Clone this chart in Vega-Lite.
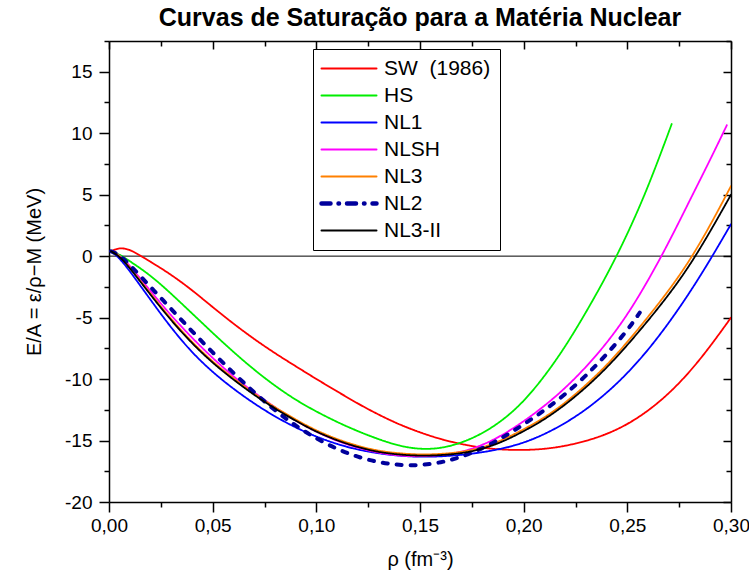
{
  "$schema": "https://vega.github.io/schema/vega-lite/v6.json",
  "autosize": {"type": "none"},
  "width": 622,
  "height": 461,
  "padding": {"left": 109, "top": 41, "right": 18, "bottom": 79},
  "background": "white",
  "config": {
    "font": "Liberation Sans",
    "view": {"stroke": null},
    "axis": {"grid": false, "domainColor": "black", "domainWidth": 1.5, "tickColor": "black", "tickWidth": 1.5, "labelColor": "black", "titleColor": "black", "labelFont": "Liberation Sans", "titleFont": "Liberation Sans", "labelFontSize": 19, "titleFontSize": 20, "titleFontWeight": "normal"}
  },
  "title": {"text": "Curvas de Saturação para a Matéria Nuclear", "font": "Liberation Sans", "fontSize": 25, "fontWeight": "bold", "color": "black", "anchor": "middle", "offset": 1},
  "datasets": {
    "curves": [
      {"s":"SW (1986)","x":0.001,"y":0.4},{"s":"SW (1986)","x":0.005,"y":0.7},{"s":"SW (1986)","x":0.01,"y":0.55},{"s":"SW (1986)","x":0.015,"y":0.05},{"s":"SW (1986)","x":0.02,"y":-0.45},{"s":"SW (1986)","x":0.03,"y":-1.5},{"s":"SW (1986)","x":0.04,"y":-2.75},{"s":"SW (1986)","x":0.05,"y":-4.15},{"s":"SW (1986)","x":0.06,"y":-5.5},{"s":"SW (1986)","x":0.07,"y":-6.75},{"s":"SW (1986)","x":0.08,"y":-7.9},{"s":"SW (1986)","x":0.09,"y":-8.95},{"s":"SW (1986)","x":0.10,"y":-10.0},{"s":"SW (1986)","x":0.11,"y":-11.0},{"s":"SW (1986)","x":0.12,"y":-12.0},{"s":"SW (1986)","x":0.13,"y":-12.9},{"s":"SW (1986)","x":0.14,"y":-13.7},{"s":"SW (1986)","x":0.15,"y":-14.35},{"s":"SW (1986)","x":0.16,"y":-14.9},{"s":"SW (1986)","x":0.17,"y":-15.3},{"s":"SW (1986)","x":0.18,"y":-15.6},{"s":"SW (1986)","x":0.19,"y":-15.75},{"s":"SW (1986)","x":0.20,"y":-15.78},{"s":"SW (1986)","x":0.21,"y":-15.7},{"s":"SW (1986)","x":0.22,"y":-15.45},{"s":"SW (1986)","x":0.23,"y":-15.05},{"s":"SW (1986)","x":0.24,"y":-14.5},{"s":"SW (1986)","x":0.25,"y":-13.7},{"s":"SW (1986)","x":0.26,"y":-12.6},{"s":"SW (1986)","x":0.27,"y":-11.2},{"s":"SW (1986)","x":0.28,"y":-9.45},{"s":"SW (1986)","x":0.29,"y":-7.35},{"s":"SW (1986)","x":0.30,"y":-5.0},
      {"s":"HS","x":0.001,"y":0.4},{"s":"HS","x":0.005,"y":0.15},{"s":"HS","x":0.01,"y":-0.4},{"s":"HS","x":0.02,"y":-1.55},{"s":"HS","x":0.03,"y":-3.05},{"s":"HS","x":0.04,"y":-4.65},{"s":"HS","x":0.05,"y":-6.25},{"s":"HS","x":0.06,"y":-7.8},{"s":"HS","x":0.07,"y":-9.25},{"s":"HS","x":0.08,"y":-10.55},{"s":"HS","x":0.09,"y":-11.7},{"s":"HS","x":0.10,"y":-12.65},{"s":"HS","x":0.11,"y":-13.5},{"s":"HS","x":0.12,"y":-14.25},{"s":"HS","x":0.13,"y":-14.9},{"s":"HS","x":0.14,"y":-15.45},{"s":"HS","x":0.15,"y":-15.72},{"s":"HS","x":0.16,"y":-15.65},{"s":"HS","x":0.17,"y":-15.2},{"s":"HS","x":0.18,"y":-14.45},{"s":"HS","x":0.19,"y":-13.35},{"s":"HS","x":0.20,"y":-11.85},{"s":"HS","x":0.21,"y":-9.8},{"s":"HS","x":0.22,"y":-7.4},{"s":"HS","x":0.23,"y":-4.6},{"s":"HS","x":0.24,"y":-1.6},{"s":"HS","x":0.25,"y":1.75},{"s":"HS","x":0.26,"y":5.6},{"s":"HS","x":0.27,"y":10.1},{"s":"HS","x":0.2714,"y":10.75},
      {"s":"NL1","x":0.001,"y":0.4},{"s":"NL1","x":0.005,"y":-0.15},{"s":"NL1","x":0.01,"y":-1.2},{"s":"NL1","x":0.02,"y":-3.55},{"s":"NL1","x":0.03,"y":-5.85},{"s":"NL1","x":0.04,"y":-7.85},{"s":"NL1","x":0.05,"y":-9.45},{"s":"NL1","x":0.06,"y":-10.8},{"s":"NL1","x":0.07,"y":-12.0},{"s":"NL1","x":0.08,"y":-13.05},{"s":"NL1","x":0.09,"y":-13.95},{"s":"NL1","x":0.10,"y":-14.7},{"s":"NL1","x":0.11,"y":-15.3},{"s":"NL1","x":0.12,"y":-15.75},{"s":"NL1","x":0.13,"y":-16.05},{"s":"NL1","x":0.14,"y":-16.25},{"s":"NL1","x":0.15,"y":-16.33},{"s":"NL1","x":0.16,"y":-16.3},{"s":"NL1","x":0.17,"y":-16.17},{"s":"NL1","x":0.18,"y":-15.97},{"s":"NL1","x":0.19,"y":-15.65},{"s":"NL1","x":0.20,"y":-15.2},{"s":"NL1","x":0.21,"y":-14.5},{"s":"NL1","x":0.22,"y":-13.6},{"s":"NL1","x":0.23,"y":-12.5},{"s":"NL1","x":0.24,"y":-11.15},{"s":"NL1","x":0.25,"y":-9.55},{"s":"NL1","x":0.26,"y":-7.65},{"s":"NL1","x":0.27,"y":-5.45},{"s":"NL1","x":0.28,"y":-3.0},{"s":"NL1","x":0.29,"y":-0.3},{"s":"NL1","x":0.30,"y":2.6},
      {"s":"NLSH","x":0.001,"y":0.4},{"s":"NLSH","x":0.005,"y":0.1},{"s":"NLSH","x":0.01,"y":-0.75},{"s":"NLSH","x":0.02,"y":-2.85},{"s":"NLSH","x":0.03,"y":-4.85},{"s":"NLSH","x":0.04,"y":-6.65},{"s":"NLSH","x":0.05,"y":-8.3},{"s":"NLSH","x":0.06,"y":-9.8},{"s":"NLSH","x":0.07,"y":-11.1},{"s":"NLSH","x":0.08,"y":-12.3},{"s":"NLSH","x":0.09,"y":-13.4},{"s":"NLSH","x":0.10,"y":-14.3},{"s":"NLSH","x":0.11,"y":-15.05},{"s":"NLSH","x":0.12,"y":-15.6},{"s":"NLSH","x":0.13,"y":-16.0},{"s":"NLSH","x":0.14,"y":-16.25},{"s":"NLSH","x":0.15,"y":-16.3},{"s":"NLSH","x":0.16,"y":-16.2},{"s":"NLSH","x":0.17,"y":-15.95},{"s":"NLSH","x":0.18,"y":-15.4},{"s":"NLSH","x":0.19,"y":-14.55},{"s":"NLSH","x":0.20,"y":-13.45},{"s":"NLSH","x":0.21,"y":-12.2},{"s":"NLSH","x":0.22,"y":-10.75},{"s":"NLSH","x":0.23,"y":-9.05},{"s":"NLSH","x":0.24,"y":-7.1},{"s":"NLSH","x":0.25,"y":-4.8},{"s":"NLSH","x":0.26,"y":-2.0},{"s":"NLSH","x":0.27,"y":1.1},{"s":"NLSH","x":0.28,"y":4.5},{"s":"NLSH","x":0.29,"y":7.85},{"s":"NLSH","x":0.298,"y":10.65},
      {"s":"NL3","x":0.001,"y":0.45},{"s":"NL3","x":0.005,"y":0.05},{"s":"NL3","x":0.01,"y":-0.9},{"s":"NL3","x":0.02,"y":-3.05},{"s":"NL3","x":0.03,"y":-5.15},{"s":"NL3","x":0.04,"y":-7.0},{"s":"NL3","x":0.05,"y":-8.6},{"s":"NL3","x":0.06,"y":-9.95},{"s":"NL3","x":0.07,"y":-11.2},{"s":"NL3","x":0.08,"y":-12.3},{"s":"NL3","x":0.09,"y":-13.3},{"s":"NL3","x":0.10,"y":-14.2},{"s":"NL3","x":0.11,"y":-14.9},{"s":"NL3","x":0.12,"y":-15.45},{"s":"NL3","x":0.13,"y":-15.85},{"s":"NL3","x":0.14,"y":-16.05},{"s":"NL3","x":0.15,"y":-16.15},{"s":"NL3","x":0.16,"y":-16.1},{"s":"NL3","x":0.17,"y":-15.95},{"s":"NL3","x":0.18,"y":-15.6},{"s":"NL3","x":0.19,"y":-14.95},{"s":"NL3","x":0.20,"y":-14.1},{"s":"NL3","x":0.21,"y":-13.15},{"s":"NL3","x":0.22,"y":-11.95},{"s":"NL3","x":0.23,"y":-10.5},{"s":"NL3","x":0.24,"y":-8.9},{"s":"NL3","x":0.25,"y":-7.0},{"s":"NL3","x":0.26,"y":-4.95},{"s":"NL3","x":0.27,"y":-2.8},{"s":"NL3","x":0.28,"y":-0.4},{"s":"NL3","x":0.29,"y":2.5},{"s":"NL3","x":0.30,"y":5.7},
      {"s":"NL2","x":0.001,"y":0.4},{"s":"NL2","x":0.005,"y":0.1},{"s":"NL2","x":0.01,"y":-0.7},{"s":"NL2","x":0.02,"y":-2.5},{"s":"NL2","x":0.03,"y":-4.3},{"s":"NL2","x":0.04,"y":-6.1},{"s":"NL2","x":0.05,"y":-7.85},{"s":"NL2","x":0.06,"y":-9.5},{"s":"NL2","x":0.07,"y":-11.1},{"s":"NL2","x":0.08,"y":-12.55},{"s":"NL2","x":0.09,"y":-13.8},{"s":"NL2","x":0.10,"y":-14.85},{"s":"NL2","x":0.11,"y":-15.7},{"s":"NL2","x":0.12,"y":-16.35},{"s":"NL2","x":0.13,"y":-16.78},{"s":"NL2","x":0.14,"y":-17.0},{"s":"NL2","x":0.15,"y":-17.03},{"s":"NL2","x":0.16,"y":-16.8},{"s":"NL2","x":0.17,"y":-16.35},{"s":"NL2","x":0.18,"y":-15.65},{"s":"NL2","x":0.19,"y":-14.75},{"s":"NL2","x":0.20,"y":-13.7},{"s":"NL2","x":0.21,"y":-12.55},{"s":"NL2","x":0.22,"y":-11.25},{"s":"NL2","x":0.23,"y":-9.75},{"s":"NL2","x":0.24,"y":-8.0},{"s":"NL2","x":0.25,"y":-6.05},{"s":"NL2","x":0.256,"y":-4.6},
      {"s":"NL3-II","x":0.001,"y":0.4},{"s":"NL3-II","x":0.005,"y":0.0},{"s":"NL3-II","x":0.01,"y":-0.95},{"s":"NL3-II","x":0.02,"y":-3.15},{"s":"NL3-II","x":0.03,"y":-5.25},{"s":"NL3-II","x":0.04,"y":-7.1},{"s":"NL3-II","x":0.05,"y":-8.7},{"s":"NL3-II","x":0.06,"y":-10.05},{"s":"NL3-II","x":0.07,"y":-11.3},{"s":"NL3-II","x":0.08,"y":-12.4},{"s":"NL3-II","x":0.09,"y":-13.4},{"s":"NL3-II","x":0.10,"y":-14.3},{"s":"NL3-II","x":0.11,"y":-15.0},{"s":"NL3-II","x":0.12,"y":-15.55},{"s":"NL3-II","x":0.13,"y":-15.95},{"s":"NL3-II","x":0.14,"y":-16.15},{"s":"NL3-II","x":0.15,"y":-16.25},{"s":"NL3-II","x":0.16,"y":-16.2},{"s":"NL3-II","x":0.17,"y":-16.05},{"s":"NL3-II","x":0.18,"y":-15.7},{"s":"NL3-II","x":0.19,"y":-15.1},{"s":"NL3-II","x":0.20,"y":-14.25},{"s":"NL3-II","x":0.21,"y":-13.3},{"s":"NL3-II","x":0.22,"y":-12.1},{"s":"NL3-II","x":0.23,"y":-10.7},{"s":"NL3-II","x":0.24,"y":-9.1},{"s":"NL3-II","x":0.25,"y":-7.25},{"s":"NL3-II","x":0.26,"y":-5.25},{"s":"NL3-II","x":0.27,"y":-3.15},{"s":"NL3-II","x":0.28,"y":-0.8},{"s":"NL3-II","x":0.29,"y":2.0},{"s":"NL3-II","x":0.30,"y":5.0}
    ],
    "zero": [{"z": 0}]
  },
  "layer": [
    {
      "data": {"name": "zero"},
      "mark": {"type": "rule", "color": "black", "strokeWidth": 1},
      "encoding": {
        "y": {"field": "z", "type": "quantitative", "scale": {"domain": [-20, 17.5], "nice": false, "zero": false}, "axis": null}
      }
    },
    {
      "data": {"name": "curves"},
      "mark": {"type": "line", "interpolate": "basis", "strokeCap": "round", "clip": true},
      "encoding": {
        "x": {"field": "x", "type": "quantitative", "scale": {"domain": [0, 0.3], "nice": false, "zero": false},
          "axis": {"orient": "bottom", "title": "ρ (fm⁻³)", "values": [0,0.025,0.05,0.075,0.1,0.125,0.15,0.175,0.2,0.225,0.25,0.275,0.3],
            "labelExpr": "abs(datum.value*20 - round(datum.value*20)) < 0.001 ? replace(format(datum.value, '.2f'), '.', ',') : ''",
            "tickSize": {"condition": {"test": "abs(datum.value*20 - round(datum.value*20)) < 0.001", "value": 10}, "value": 5},
            "labelPadding": 4, "titlePadding": 14, "labelFlush": false, "labelOverlap": false}},
        "y": {"field": "y", "type": "quantitative", "scale": {"domain": [-20, 17.5], "nice": false, "zero": false},
          "axis": {"orient": "left", "title": "E/A = ε/ρ−M (MeV)", "values": [-20,-17.5,-15,-12.5,-10,-7.5,-5,-2.5,0,2.5,5,7.5,10,12.5,15,17.5],
            "labelExpr": "datum.value % 5 == 0 ? '' + datum.value : ''",
            "tickSize": {"condition": {"test": "datum.value % 5 == 0", "value": 10}, "value": 5},
            "labelPadding": 7, "titlePadding": 20, "labelFlush": false, "labelOverlap": false}},
        "color": {"field": "s", "type": "nominal",
          "scale": {"domain": ["SW (1986)","HS","NL1","NLSH","NL3","NL2","NL3-II"], "range": ["#ff0000","#00ee00","#0000ff","#ff00ff","#ff8000","#00009c","#000000"]},
          "legend": {"orient": "none", "legendX": 204, "legendY": 8, "title": null, "strokeColor": "black", "fillColor": "white", "padding": 9,
            "symbolType": "M-1,0L4,0", "symbolSize": 484, "symbolStrokeWidth": 2, "labelFontSize": 21, "labelFont": "Liberation Sans", "labelColor": "black", "labelOffset": 41, "rowPadding": 5, "labelLimit": 300,
            "labelExpr": "datum.label == 'SW (1986)' ? 'SW\u00a0\u00a0(1986)' : datum.label",
            "encode": {"symbols": {"update": {
              "strokeWidth": {"signal": "datum.value === 'NL2' ? 4.5 : 2"},
              "strokeDash": {"signal": "datum.value === 'NL2' ? [9, 8, 0.5, 8] : [1, 0]"},
              "strokeCap": {"value": "round"}}}}}},
        "strokeWidth": {"condition": {"test": "datum.s === 'NL2'", "value": 4}, "value": 1.8},
        "strokeDash": {"condition": {"test": "datum.s === 'NL2'", "value": [5, 9]}, "value": [1, 0]}
      }
    },
    {
      "data": {"name": "zero"},
      "mark": {"type": "point", "opacity": 0},
      "encoding": {
        "x": {"datum": 0, "type": "quantitative", "scale": {"domain": [0, 0.3], "nice": false, "zero": false},
          "axis": {"orient": "top", "title": null, "labels": false, "minExtent": 0, "maxExtent": 0, "values": [0,0.025,0.05,0.075,0.1,0.125,0.15,0.175,0.2,0.225,0.25,0.275,0.3],
            "tickSize": {"condition": {"test": "abs(datum.value*20 - round(datum.value*20)) < 0.001", "value": -8}, "value": -5}}},
        "y": {"datum": 0, "type": "quantitative", "scale": {"domain": [-20, 17.5], "nice": false, "zero": false},
          "axis": {"orient": "right", "title": null, "labels": false, "minExtent": 0, "maxExtent": 0, "values": [-20,-17.5,-15,-12.5,-10,-7.5,-5,-2.5,0,2.5,5,7.5,10,12.5,15,17.5],
            "tickSize": {"condition": {"test": "datum.value % 5 == 0", "value": -8}, "value": -5}}}
      }
    }
  ],
  "resolve": {"axis": {"x": "independent", "y": "independent"}}
}
